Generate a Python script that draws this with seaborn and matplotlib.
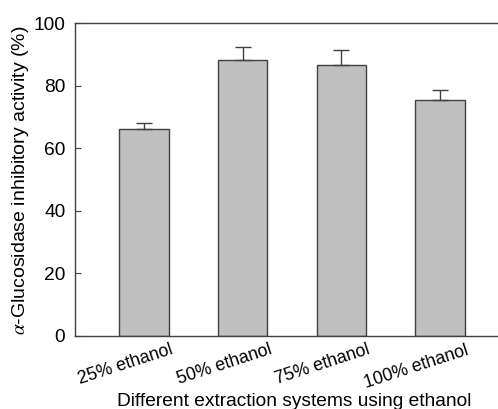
import matplotlib
matplotlib.use("Agg")
import matplotlib.pyplot as plt
import matplotlib.transforms as mtransforms
import seaborn as sns
import numpy as np
import pandas as pd

categories = ["25% ethanol", "50% ethanol", "75% ethanol", "100% ethanol"]
values = [66.2, 88.3, 86.5, 75.5]
errors = [2.0, 4.0, 5.0, 3.0]
yticks = [0, 20, 40, 60, 80, 100]

sns.set_theme(style="white")
plt.rcParams['font.family'] = ['Liberation Sans', 'DejaVu Sans']
plt.rcParams['mathtext.fontset'] = 'stix'

df = pd.DataFrame({"cat": categories, "val": values})

fig = plt.figure(figsize=(4.98, 4.09), dpi=100)
ax_w = (498 - 75) / 498 + 0.01
ax = fig.add_axes([75/498, 1 - 336/409, ax_w, (336 - 23)/409])
ax_wpx = ax_w * 498

sns.barplot(data=df, x="cat", y="val", ax=ax, color="#c0c0c0",
            edgecolor="#404040", linewidth=1.0, width=0.5, errorbar=None,
            saturation=1)
ax.errorbar(np.arange(len(values)), values,
            yerr=[np.zeros(len(errors)), errors], fmt="none",
            ecolor="#404040", elinewidth=1.0, capsize=5.5, capthick=1.0)

ax.set_xlim(-0.70, 3.64)
ax.set_ylim(0, 100)
ax.set_yticks(yticks)
ax.set_yticklabels([str(t) for t in yticks], fontsize=13.8, color="black")
ax.tick_params(axis="y", direction="in", length=4, width=0.8, color="#404040",
               left=True, pad=7)
ax.tick_params(axis="x", length=0, pad=4)

for sp in ["top", "left", "bottom"]:
    ax.spines[sp].set_visible(True)
    ax.spines[sp].set_color("#404040")
    ax.spines[sp].set_linewidth(1.0)
ax.spines["right"].set_visible(False)

offset = mtransforms.ScaledTranslation(26/100, 0, fig.dpi_scale_trans)
ax.set_xticks(range(len(categories)))
ax.set_xticklabels(categories, rotation=18, ha="right", va="top",
                   rotation_mode="anchor", fontsize=12.8, color="black")
for lab in ax.get_xticklabels():
    lab.set_transform(lab.get_transform() + offset)

ax.set_xlabel("Different extraction systems using ethanol", fontsize=13.8,
              color="black", va="baseline")
ax.xaxis.set_label_coords(0.5 + 5/ax_wpx, (336 - 406) / 313)
ax.set_ylabel("$\\alpha$-Glucosidase inhibitory activity (%)", fontsize=14,
              color="black")
ax.yaxis.set_label_coords((31 - 75) / ax_wpx, (336 - 180) / 313)

fig.savefig("out.png", dpi=100)
